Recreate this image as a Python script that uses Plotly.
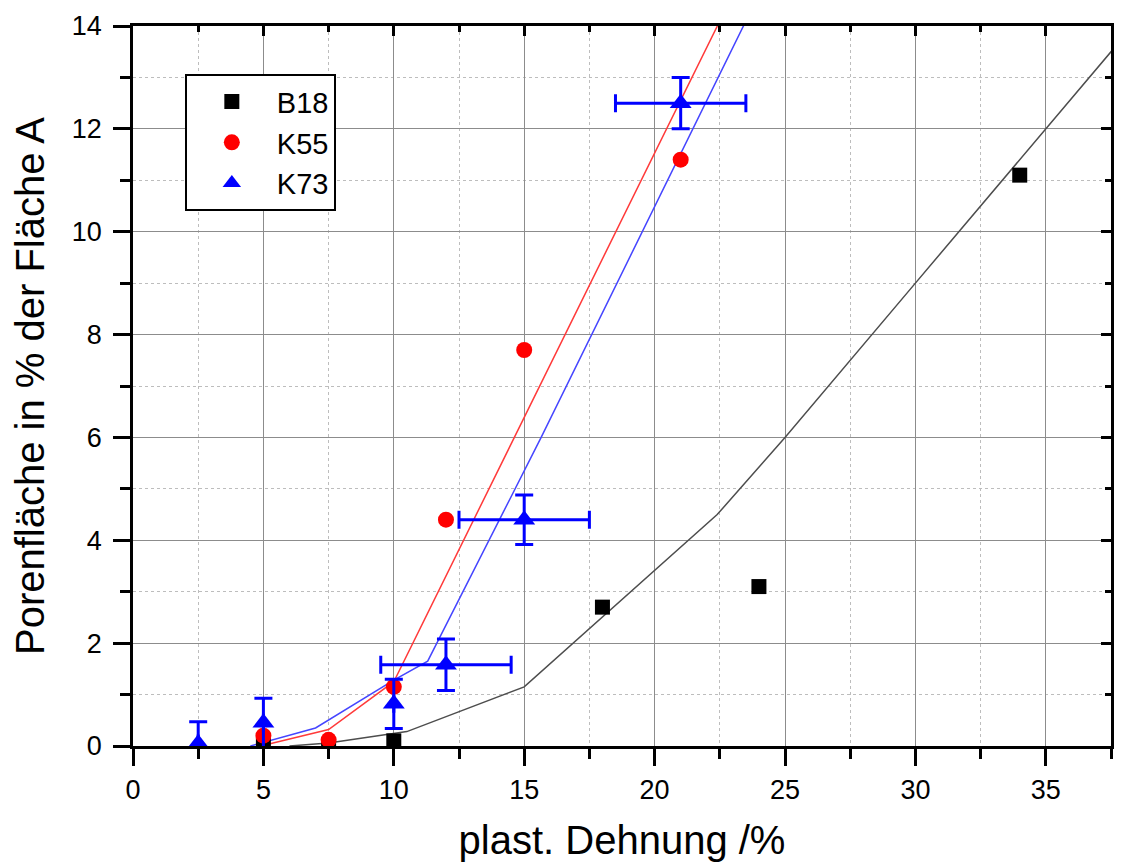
import plotly.graph_objects as go

# ---- data ----
b18_x = [5.0, 7.5, 10.0, 18.0, 24.0, 34.0]
b18_y = [0.02, 0.02, 0.1, 2.7, 3.1, 11.1]

k55_x = [5.0, 7.5, 10.0, 12.0, 15.0, 21.0]
k55_y = [0.2, 0.12, 1.15, 4.4, 7.7, 11.4]

k73_x = [2.5, 5.0, 10.0, 12.0, 15.0, 21.0]
k73_y = [0.05, 0.45, 0.82, 1.58, 4.4, 12.5]
k73_yerr = [0.42, 0.48, 0.48, 0.5, 0.48, 0.5]
k73_xerr = [None, None, None, 2.5, 2.5, 2.5]

# fit curves
b18_fit_x = [6.0, 7.5, 10.5, 15.0, 22.4, 25.0, 30.0, 35.0, 38.0]
b18_fit_y = [0.0, 0.06, 0.28, 1.15, 4.5, 6.0, 9.0, 12.0, 13.8]

k55_fit_x = [4.9, 7.5, 10.0, 22.6]
k55_fit_y = [0.0, 0.32, 1.25, 14.2]

k73_fit_x = [4.5, 7.0, 10.0, 11.3, 15.65, 23.6]
k73_fit_y = [0.0, 0.35, 1.28, 1.65, 6.0, 14.2]

FONT = "Liberation Sans, Arial, sans-serif"

fig = go.Figure()

fig.add_trace(go.Scatter(x=b18_fit_x, y=b18_fit_y, mode="lines",
                         line=dict(color="#4d4d4d", width=1.5), showlegend=False))
fig.add_trace(go.Scatter(x=k55_fit_x, y=k55_fit_y, mode="lines",
                         line=dict(color="#ff3a3a", width=1.5), showlegend=False))
fig.add_trace(go.Scatter(x=k73_fit_x, y=k73_fit_y, mode="lines",
                         line=dict(color="#4545ff", width=1.5), showlegend=False))

fig.add_trace(go.Scatter(x=b18_x, y=b18_y, mode="markers", name="B18",
                         marker=dict(symbol="square", size=15, color="black")))
fig.add_trace(go.Scatter(x=k55_x, y=k55_y, mode="markers", name="K55",
                         marker=dict(symbol="circle", size=16, color="red")))
fig.add_trace(go.Scatter(x=k73_x, y=k73_y, mode="markers", name="K73",
                         marker=dict(symbol="triangle-up", size=19, color="blue"),
                         error_y=dict(type="data", array=k73_yerr, color="blue",
                                      thickness=3, width=9),
                         error_x=dict(type="data", array=k73_xerr, color="blue",
                                      thickness=3, width=9)))

axis_common = dict(showline=True, linecolor="black", linewidth=2.5,
                   showgrid=True, gridcolor="#8c8c8c", gridwidth=1.3,
                   zeroline=False, automargin=False,
                   tickfont=dict(family=FONT, size=27, color="black"),
                   tickcolor="black", tickwidth=2.5)

fig.update_layout(
    width=1124, height=863,
    margin=dict(l=125, r=21, t=18, b=125),
    plot_bgcolor="white", paper_bgcolor="white",
    font=dict(family=FONT, color="black"),
    xaxis=dict(range=[0, 37.5], dtick=5, tick0=0, ticks="outside", ticklen=17,
               ticklabelstandoff=1,
               minor=dict(dtick=2.5, ticks="outside", ticklen=10, tickwidth=2.5,
                          tickcolor="black",
                          showgrid=True, gridcolor="#bdbdbd", griddash="dot",
                          gridwidth=1.2),
               title=dict(text="plast. Dehnung /%", font=dict(family=FONT, size=40),
                          standoff=22),
               **axis_common),
    yaxis=dict(range=[0, 14], dtick=2, tick0=0, ticks="outside", ticklen=17,
               ticklabelstandoff=6,
               minor=dict(dtick=1, ticks="outside", ticklen=10, tickwidth=2.5,
                          tickcolor="black",
                          showgrid=True, gridcolor="#bdbdbd", griddash="dot",
                          gridwidth=1.2),
               title=dict(text="Porenfläche in % der Fläche A",
                          font=dict(family=FONT, size=40), standoff=22),
               **axis_common),
    xaxis2=dict(overlaying="x", side="top", matches="x", range=[0, 37.5],
                dtick=5, tick0=0, ticks="inside", ticklen=10, tickwidth=2.5,
                tickcolor="black", showticklabels=False, showgrid=False,
                showline=True, linecolor="black", linewidth=2.5, zeroline=False,
                automargin=False,
                minor=dict(dtick=2.5, ticks="inside", ticklen=6, tickwidth=2.5,
                           tickcolor="black")),
    yaxis2=dict(overlaying="y", side="right", matches="y", range=[0, 14],
                dtick=2, tick0=0, ticks="inside", ticklen=10, tickwidth=2.5,
                tickcolor="black", showticklabels=False, showgrid=False,
                showline=True, linecolor="black", linewidth=2.5, zeroline=False,
                automargin=False,
                minor=dict(dtick=1, ticks="inside", ticklen=6, tickwidth=2.5,
                           tickcolor="black")),
    legend=dict(x=0.053, y=0.933, xanchor="left", yanchor="top",
                bgcolor="white", bordercolor="black", borderwidth=2,
                font=dict(family=FONT, size=29), itemwidth=80,
                tracegroupgap=0),
    showlegend=True,
)

# invisible trace to activate secondary axes
fig.add_trace(go.Scatter(x=[None], y=[None], xaxis="x2", yaxis="y2",
                         showlegend=False, hoverinfo="skip"))

fig.write_html("out.html")
